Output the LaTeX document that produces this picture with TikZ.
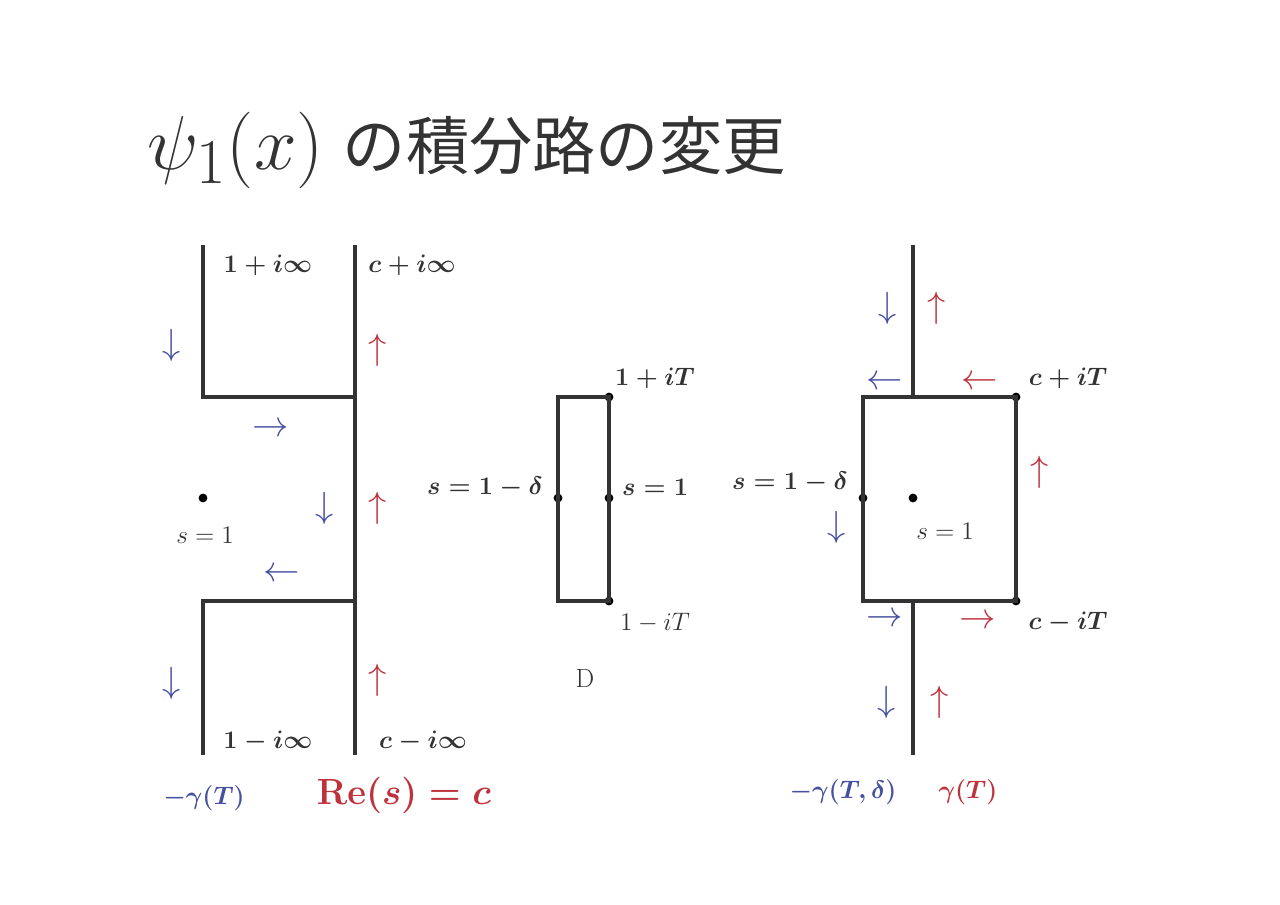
\documentclass[tikz,border=0pt]{standalone}
\usepackage{amsmath}
\usepackage{fontspec}
\newfontfamily\cjk{Noto Sans CJK JP}
\definecolor{pathblue}{RGB}{70,80,160}
\definecolor{pathred}{RGB}{190,50,60}
\tikzset{
  lbl/.style={font=\fontsize{15}{18}\selectfont\boldmath},
  plain/.style={font=\fontsize{15}{18}\selectfont},
  arr/.style={font=\fontsize{20}{22}\selectfont},
  pt/.style={circle,fill=black,inner sep=0pt,minimum size=5pt}
}
\begin{document}
\begin{tikzpicture}[x=0.02cm,y=-0.02cm,line width=1.8pt,color=black!80]
	\useasboundingbox (0,0) rectangle (1280,905);
	
	%title
	\node[anchor=west,font=\fontsize{36}{40}\selectfont] (title) at (140,150) {\scalebox{1.75}{\fontsize{24.88}{28}\selectfont$\psi_1(x)$} {\cjk の積分路の変更}};
	
	%left contour
	\coordinate (lt) at (355,245); \coordinate (lb) at (355,755);
	\coordinate (ut) at (203,245); \coordinate (uc) at (203,397); \coordinate (ur) at (355,397);
	\coordinate (dr) at (355,601); \coordinate (dc) at (203,601); \coordinate (db) at (203,755);
	\draw (lt)--(lb);
	\draw (ut)--(uc)--(ur);
	\draw (dr)--(dc)--(db);
	\node[pt] (pole) at (203,498) {};
	\node[plain] (poleL) at (205,535) {$s=1$};
	\node[lbl] (ui) at (268,265) {$1+i\infty$};
	\node[lbl] (ci) at (412,265) {$c+i\infty$};
	\node[lbl] (di) at (268,741) {$1-i\infty$};
	\node[lbl] (cdi) at (423,741) {$c-i\infty$};
	\node[arr,pathblue] (a1) at (172,345) {$\downarrow$};
	\node[arr,pathred] (a2) at (378,350) {$\uparrow$};
	\node[arr,pathblue] (a3) at (271,430) {$\rightarrow$};
	\node[arr,pathblue] (a4) at (325,508) {$\downarrow$};
	\node[arr,pathred] (a5) at (378,508) {$\uparrow$};
	\node[arr,pathblue] (a6) at (282,575) {$\leftarrow$};
	\node[arr,pathblue] (a7) at (172,683) {$\downarrow$};
	\node[arr,pathred] (a8) at (378,680) {$\uparrow$};
	\node[lbl,pathblue] (gl) at (204,798) {$-\gamma(T)$};
	\node[font=\fontsize{22}{26}\selectfont\boldmath,pathred] (re) at (404,795) {$\mathbf{Re}(s)=c$};
	
	%middle rectangle
	\coordinate (m1) at (558,397); \coordinate (m2) at (558,601);
	\node[pt] (m3) at (609,601) {}; \node[pt] (m4) at (609,397) {};
	\node[pt] (m5) at (558,498) {}; \node[pt] (m6) at (609,498) {};
	\draw (m1)--(m2)--(m3.center)--(m4.center)--cycle;
	\node[lbl] (mt) at (655,378) {$1+iT$};
	\node[lbl] (ml) at (485,487) {$s=1-\delta$};
	\node[lbl] (mr) at (655,487) {$s=1$};
	\node[plain] (mb) at (655,623) {$1-iT$};
	\node[plain] (md) at (585,678) {D};
	
	%right contour
	\coordinate (rt) at (913,245); \coordinate (rb) at (913,755);
	\coordinate (rtm) at (913,397); \coordinate (rbm) at (913,601);
	\coordinate (r1) at (863,397); \coordinate (r2) at (863,601);
	\node[pt] (r3) at (1016,601) {}; \node[pt] (r4) at (1016,397) {};
	\node[pt] (r5) at (863,498) {}; \node[pt] (r6) at (913,498) {};
	\draw (rt)--(rtm);
	\draw (rbm)--(rb);
	\draw (r1)--(r2)--(r3.center)--(r4.center)--cycle;
	\node[lbl] (rct) at (1068,378) {$c+iT$};
	\node[lbl] (rcb) at (1068,622) {$c-iT$};
	\node[lbl] (rl) at (790,482) {$s=1-\delta$};
	\node[plain] (rs) at (945,531) {$s=1$};
	\node[arr,pathblue] (b1) at (888,308) {$\downarrow$};
	\node[arr,pathred] (b2) at (937,308) {$\uparrow$};
	\node[arr,pathblue] (b3) at (885,383) {$\leftarrow$};
	\node[arr,pathred] (b4) at (980,383) {$\leftarrow$};
	\node[arr,pathred] (b5) at (1040,472) {$\uparrow$};
	\node[arr,pathblue] (b6) at (837,527) {$\downarrow$};
	\node[arr,pathblue] (b7) at (885,620) {$\rightarrow$};
	\node[arr,pathred] (b8) at (978,622) {$\rightarrow$};
	\node[arr,pathblue] (b9) at (887,702) {$\downarrow$};
	\node[arr,pathred] (b10) at (940,702) {$\uparrow$};
	\node[lbl,pathblue] (gr) at (843,792) {$-\gamma(T,\delta)$};
	\node[lbl,pathred] (grr) at (968,792) {$\gamma(T)$};
\end{tikzpicture}
\end{document}
